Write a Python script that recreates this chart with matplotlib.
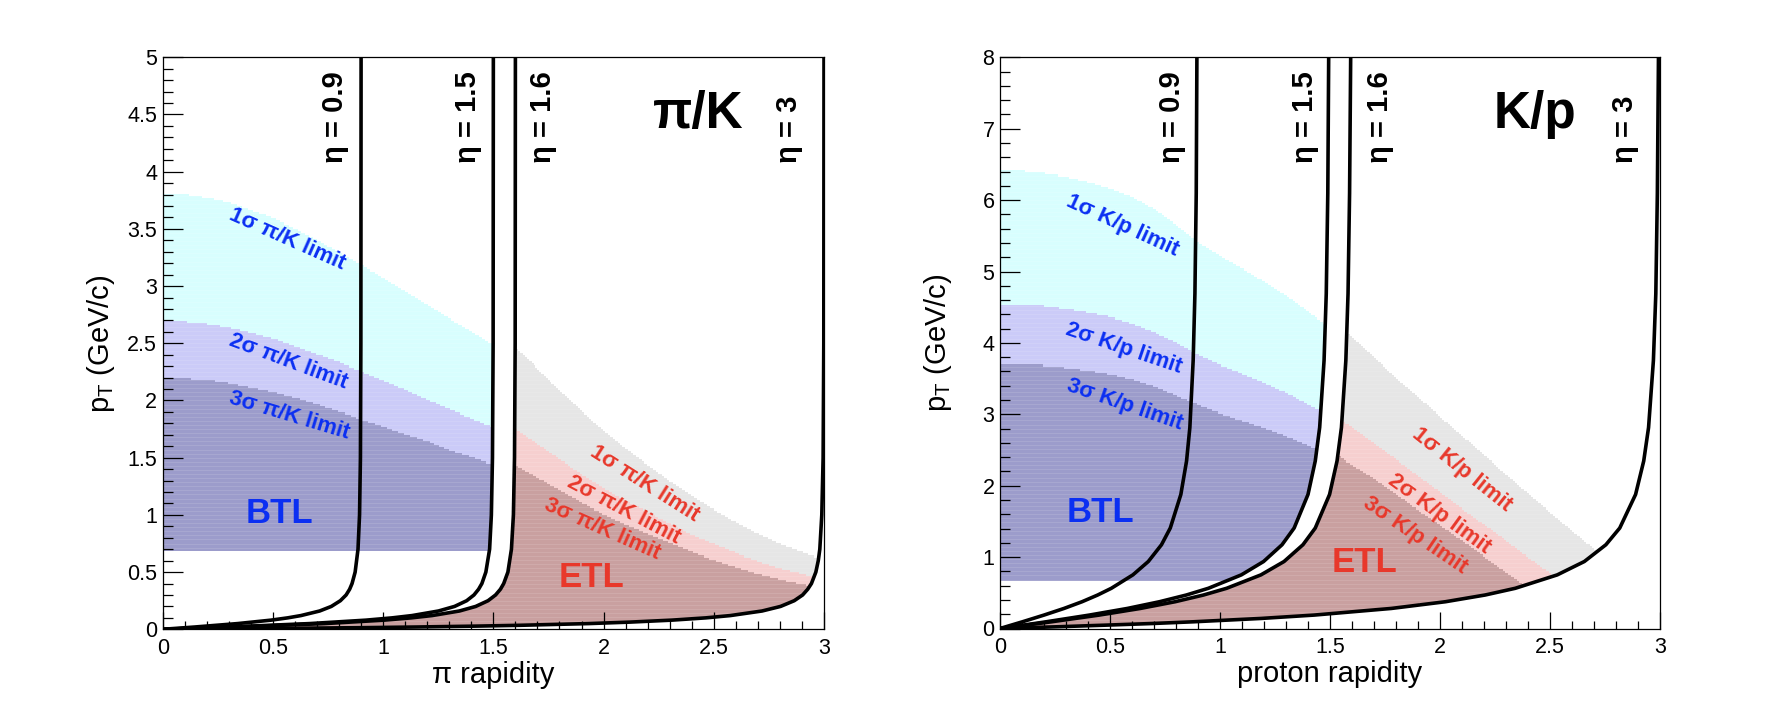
import numpy as np
import matplotlib.pyplot as plt
from matplotlib.colors import to_rgba
from matplotlib.ticker import MultipleLocator, FormatStrFormatter

plt.rcParams['font.family'] = ['Liberation Sans', 'DejaVu Sans']
plt.rcParams['mathtext.fontset'] = 'custom'
plt.rcParams['mathtext.rm'] = 'Liberation Sans'
plt.rcParams['mathtext.it'] = 'Liberation Sans:italic'
plt.rcParams['mathtext.bf'] = 'Liberation Sans:bold'

# eta = const lines in the pion panel: pT and rapidity
pi_pt = [0, 0.02, 0.05, 0.08, 0.1, 0.12, 0.16, 0.2, 0.25, 0.3, 0.35, 0.4, 0.5, 0.7, 1.0, 1.5, 2.5, 5.0]
pi_eta09 = [0, 0.145, 0.340, 0.491, 0.567, 0.627, 0.712, 0.765, 0.806, 0.832, 0.848, 0.859, 0.873, 0.886, 0.893, 0.897, 0.899, 0.900]
pi_eta15 = [0, 0.298, 0.667, 0.922, 1.041, 1.131, 1.251, 1.324, 1.379, 1.412, 1.433, 1.448, 1.466, 1.483, 1.491, 1.496, 1.499, 1.500]
pi_eta16 = [0, 0.331, 0.734, 1.004, 1.128, 1.222, 1.346, 1.420, 1.476, 1.510, 1.532, 1.547, 1.566, 1.582, 1.591, 1.596, 1.599, 1.600]
pi_pt3 = [0, 0.007, 0.014, 0.02, 0.028, 0.035, 0.05, 0.063, 0.08, 0.1, 0.12, 0.16, 0.2, 0.25,
          0.3, 0.35, 0.4, 0.5, 0.6, 0.7, 1.0, 1.5, 2.5, 5.0]
pi_eta3 = [0, 0.481, 0.879, 1.150, 1.428, 1.621, 1.932, 2.121, 2.309, 2.464, 2.575, 2.719, 2.803, 2.865,
           2.903, 2.926, 2.943, 2.963, 2.974, 2.981, 2.990, 2.996, 2.999, 3.000]

# eta = const lines in the proton panel
p_pt = [0, 0.047, 0.094, 0.188, 0.281, 0.375, 0.469, 0.563, 0.751, 0.938, 1.173, 1.407, 1.877, 2.346,
        2.815, 3.753, 4.691, 6.099, 8.0]
p_eta09 = [0, 0.051, 0.102, 0.200, 0.291, 0.373, 0.444, 0.506, 0.604, 0.674, 0.734, 0.774, 0.822, 0.848,
           0.863, 0.878, 0.886, 0.892, 0.895]
p_eta15 = [0, 0.106, 0.210, 0.406, 0.579, 0.725, 0.847, 0.947, 1.097, 1.198, 1.282, 1.337, 1.400, 1.433,
           1.453, 1.473, 1.483, 1.490, 1.494]
p_eta16 = [0, 0.118, 0.234, 0.451, 0.638, 0.796, 0.925, 1.030, 1.186, 1.291, 1.377, 1.433, 1.498, 1.532,
           1.552, 1.572, 1.582, 1.589, 1.594]
p_pt3 = [0, 0.009, 0.023, 0.047, 0.070, 0.094, 0.141, 0.188, 0.281, 0.375, 0.469, 0.563, 0.751, 0.938,
         1.173, 1.407, 1.877, 2.346, 2.815, 3.753, 4.691, 6.099, 8.0]
p_eta3 = [0, 0.100, 0.248, 0.481, 0.693, 0.879, 1.187, 1.428, 1.779, 2.025, 2.205, 2.342, 2.533, 2.656,
          2.754, 2.817, 2.889, 2.926, 2.948, 2.970, 2.981, 2.988, 2.993]

# separation limits, barrel (BTL)
btl_x = [0, 0.1, 0.2, 0.3, 0.4, 0.5, 0.6, 0.7, 0.8, 0.9, 1.0, 1.1, 1.2, 1.3, 1.4, 1.5]
pik_btl_1s = [3.81, 3.80, 3.77, 3.73, 3.66, 3.59, 3.50, 3.40, 3.29, 3.18, 3.07, 2.95, 2.83, 2.71, 2.60, 2.48]
pik_btl_2s = [2.69, 2.69, 2.67, 2.64, 2.59, 2.54, 2.47, 2.40, 2.33, 2.25, 2.17, 2.09, 2.00, 1.92, 1.84, 1.76]
pik_btl_3s = [2.20, 2.19, 2.18, 2.15, 2.11, 2.07, 2.02, 1.96, 1.90, 1.83, 1.77, 1.70, 1.64, 1.56, 1.50, 1.43]
kp_btl_1s = [6.40, 6.39, 6.36, 6.31, 6.24, 6.15, 6.03, 5.86, 5.64, 5.40, 5.20, 5.03, 4.85, 4.65, 4.42, 4.20]
kp_btl_2s = [4.52, 4.52, 4.50, 4.46, 4.41, 4.35, 4.26, 4.14, 3.99, 3.82, 3.68, 3.56, 3.43, 3.29, 3.12, 2.97]
kp_btl_3s = [3.69, 3.69, 3.67, 3.64, 3.60, 3.55, 3.48, 3.38, 3.25, 3.12, 3.00, 2.90, 2.80, 2.68, 2.55, 2.42]
pik_btl_ptmin = 0.67
kp_btl_ptmin = 0.655

# separation limits, endcap (ETL)
pik_etl_x = [1.45, 1.6, 1.7, 1.8, 1.9, 2.0, 2.1, 2.2, 2.3, 2.4, 2.5, 2.6, 2.7, 2.8, 2.9, 3.0]
pik_etl_1s = [2.46, 2.46, 2.27, 2.08, 1.90, 1.73, 1.57, 1.43, 1.29, 1.16, 1.04, 0.93, 0.83, 0.74, 0.67, 0.60]
pik_etl_2s = [1.75, 1.75, 1.61, 1.48, 1.35, 1.23, 1.11, 1.02, 0.92, 0.82, 0.74, 0.66, 0.59, 0.53, 0.48, 0.43]
pik_etl_3s = [1.43, 1.43, 1.32, 1.21, 1.10, 1.00, 0.91, 0.83, 0.75, 0.67, 0.60, 0.54, 0.48, 0.43, 0.39, 0.35]
kp_etl_x = [1.40, 1.54, 1.58, 1.7, 1.8, 1.9, 2.0, 2.1, 2.2, 2.3, 2.4, 2.5, 2.6, 2.7, 2.8, 3.0]
kp_etl_1s = [4.13, 4.13, 4.13, 3.78, 3.50, 3.23, 2.96, 2.69, 2.42, 2.15, 1.88, 1.62, 1.36, 1.10, 0.85, 0.35]
kp_etl_2s = [2.92, 2.92, 2.86, 2.58, 2.36, 2.13, 1.90, 1.67, 1.45, 1.22, 0.99, 0.77, 0.54, 0.31, 0.10, 0.0]
kp_etl_3s = [2.41, 2.41, 2.32, 2.09, 1.87, 1.65, 1.44, 1.22, 1.00, 0.78, 0.56, 0.34, 0.12, 0.0, 0.0, 0.0]

eta_names = ['0.9', '1.5', '1.6', '3']

blue = '#0b2ff2'
red = '#e8382b'
btl_colors = ['#d8fefe', '#cbcbf8', '#9c9ccb']
etl_colors = ['#e6e6e6', '#f6cfcf', '#c9a0a0']

NX, NY = 600, 280   # binning of the 2D maps


def panel(ax, curves, btl, btl_min, etl_x, etl, ymax, xlabel, title, eta_xpos,
          btl_txt, etl_txt, species, ymajor, yminor):
    c09, c15, c16, c3 = curves
    xc = (np.arange(NX) + 0.5) * 3.0 / NX
    yc = (np.arange(NY) + 0.5) * ymax / NY
    X, Y = np.meshgrid(xc, yc)
    # acceptance of each detector between the eta lines
    in_etl = (X > np.interp(Y, c16[1], c16[0])) & (X < np.interp(Y, c3[1], c3[0]))
    in_btl = (X < np.interp(Y, c15[1], c15[0])) & (Y >= btl_min)
    img = np.zeros((NY, NX, 4))
    for top, col in zip(etl, etl_colors):
        img[in_etl & (Y < np.interp(X, etl_x, top))] = to_rgba(col)
    for top, col in zip(btl, btl_colors):
        img[in_btl & (Y < np.interp(X, btl_x, top))] = to_rgba(col)
    ax.imshow(img, origin='lower', extent=(0, 3, 0, ymax), aspect='auto',
              interpolation='nearest', zorder=1)
    # faint bin boundaries, like the original box drawing
    ax.hlines(np.arange(1, NY // 2) * 2 * ymax / NY, 0, 3, colors='white', lw=0.5,
              alpha=0.16, zorder=1.5)

    for x, pt in curves:
        ax.plot(x, pt, color='black', lw=2.6, zorder=3)

    ax.set_xlim(0, 3)
    ax.set_ylim(0, ymax)
    ax.xaxis.set_major_locator(MultipleLocator(0.5))
    ax.xaxis.set_minor_locator(MultipleLocator(0.1))
    ax.yaxis.set_major_locator(MultipleLocator(ymajor))
    ax.yaxis.set_minor_locator(MultipleLocator(yminor))
    ax.xaxis.set_major_formatter(FormatStrFormatter('%g'))
    ax.yaxis.set_major_formatter(FormatStrFormatter('%g'))
    ax.tick_params(which='both', direction='in', top=False, right=False, width=0.9,
                   labelsize=15.5, colors='black')
    ax.tick_params(axis='y', which='major', length=14.4, pad=4)
    ax.tick_params(axis='y', which='minor', length=7.2)
    ax.tick_params(axis='x', which='major', length=12, pad=6)
    ax.tick_params(axis='x', which='minor', length=6)
    for s in ax.spines.values():
        s.set_linewidth(0.9)
        s.set_zorder(5)

    ax.set_xlabel(xlabel, fontsize=21)
    ax.xaxis.set_label_coords(0.5, -0.056)
    ax.set_ylabel(r'p$_{\mathrm{T}}$ (GeV/c)', fontsize=21)
    ax.yaxis.set_label_coords(-0.069, 0.5)

    for xp, name in zip(eta_xpos, eta_names):
        ax.text(xp, 0.815, 'η = ' + name, transform=ax.get_xaxis_transform(), rotation=90,
                ha='center', va='bottom', fontsize=21, fontweight='bold')
    ax.text(2.43, 0.876, title, transform=ax.get_xaxis_transform(), ha='center',
            va='baseline', fontsize=37, fontweight='bold')

    for (x, y, ang), n in zip(btl_txt[:3], ['1', '2', '3']):
        ax.text(x, y, n + 'σ ' + species + ' limit', color=blue, fontsize=16, fontweight='bold',
                rotation=ang, rotation_mode='anchor', ha='center', va='center', zorder=4)
    for (x, y, ang), n in zip(etl_txt[:3], ['1', '2', '3']):
        ax.text(x, y, n + 'σ ' + species + ' limit', color=red, fontsize=16, fontweight='bold',
                rotation=ang, rotation_mode='anchor', ha='center', va='center', zorder=4)
    bx, by = btl_txt[3]
    ax.text(bx, by, 'BTL', color=blue, fontsize=25, fontweight='bold', ha='center',
            va='baseline', zorder=4)
    ex, ey = etl_txt[3]
    ax.text(ex, ey, 'ETL', color=red, fontsize=25, fontweight='bold', ha='center',
            va='baseline', zorder=4)


fig = plt.figure(figsize=(17.8, 7.14), dpi=100)
ax1 = fig.add_axes([162.7 / 1780, 1 - 629.3 / 714, 661.3 / 1780, 572 / 714])
ax2 = fig.add_axes([1000 / 1780, 1 - 628.5 / 714, 660 / 1780, 571.2 / 714])

panel(ax1,
      [(pi_eta09, pi_pt), (pi_eta15, pi_pt), (pi_eta16, pi_pt), (pi_eta3, pi_pt3)],
      [pik_btl_1s, pik_btl_2s, pik_btl_3s], pik_btl_ptmin,
      pik_etl_x, [pik_etl_1s, pik_etl_2s, pik_etl_3s],
      5, 'π rapidity', 'π/K', [0.78, 1.383, 1.723, 2.843],
      [(0.565, 3.41, -24), (0.569, 2.34, -20.5), (0.573, 1.865, -16.7), (0.531, 0.927)],
      [(2.185, 1.273, -32.4), (2.09, 1.04, -27.7), (1.996, 0.879, -23.9), (1.947, 0.372)],
      'π/K', 0.5, 0.1)

panel(ax2,
      [(p_eta09, p_pt), (p_eta15, p_pt), (p_eta16, p_pt), (p_eta3, p_pt3)],
      [kp_btl_1s, kp_btl_2s, kp_btl_3s], kp_btl_ptmin,
      kp_etl_x, [kp_etl_1s, kp_etl_2s, kp_etl_3s],
      8, 'proton rapidity', 'K/p', [0.78, 1.386, 1.727, 2.84],
      [(0.557, 5.64, -24.7), (0.564, 3.92, -18.7), (0.568, 3.14, -19), (0.455, 1.496)],
      [(2.098, 2.218, -38.7), (1.996, 1.60, -35.9), (1.886, 1.30, -34.2), (1.655, 0.795)],
      'K/p', 1, 0.2)

fig.savefig('out.png', dpi=100)
